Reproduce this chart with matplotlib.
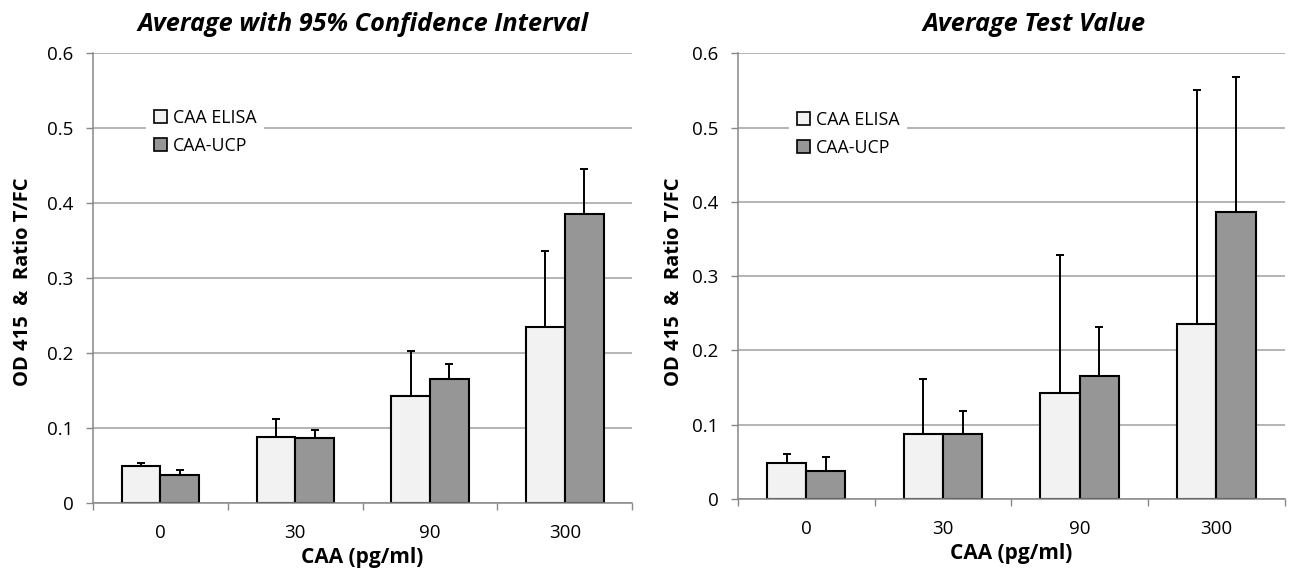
import numpy as np
import matplotlib
matplotlib.use('Agg')
import matplotlib.pyplot as plt
from matplotlib.patches import Patch

plt.rcParams['font.family'] = ['Open Sans', 'DejaVu Sans']

# Data
categories = ['0', '30', '90', '300']
elisa_mean = [0.049, 0.088, 0.143, 0.235]
ucp_mean = [0.038, 0.087, 0.165, 0.386]

# upper error (95% CI) - left panel
elisa_ci = [0.004, 0.024, 0.060, 0.101]
ucp_ci = [0.006, 0.011, 0.021, 0.059]

# upper error (test value spread) - right panel
elisa_sd = [0.011, 0.074, 0.185, 0.316]
ucp_sd = [0.019, 0.032, 0.066, 0.182]

titles = ['Average with 95% Confidence Interval', 'Average Test Value']

fig = plt.figure(figsize=(12.9, 5.72), dpi=100)
ax1 = fig.add_axes([0.0721, 0.1206, 0.418, 0.7867])
ax2 = fig.add_axes([0.572, 0.1276, 0.424, 0.779])

grid_col = '#a0a0a0'
axis_col = '#888888'


def draw_panel(ax, e_err, u_err, title, title_x, leg_xy, ylab_x):
    x = np.arange(len(categories))
    w = 0.287
    ax.set_axisbelow(True)
    ax.bar(x - w / 2, elisa_mean, w, color='#f2f2f2', edgecolor='black', linewidth=1.5, zorder=2)
    ax.bar(x + w / 2, ucp_mean, w, color='#969696', edgecolor='black', linewidth=1.5, zorder=2)
    ax.errorbar(x - w / 2, elisa_mean, yerr=[np.zeros(4), e_err], fmt='none',
                ecolor='black', elinewidth=1.4, capsize=3, capthick=1.4, zorder=1)
    ax.errorbar(x + w / 2, ucp_mean, yerr=[np.zeros(4), u_err], fmt='none',
                ecolor='black', elinewidth=1.4, capsize=3, capthick=1.4, zorder=1)

    ax.set_xlim(-0.5, 3.5)
    ax.set_ylim(0, 0.6)
    ax.set_yticks([0, 0.1, 0.2, 0.3, 0.4, 0.5, 0.6])
    ax.set_yticklabels(['0', '0.1', '0.2', '0.3', '0.4', '0.5', '0.6'])
    ax.yaxis.grid(True, color=grid_col, linewidth=1.1)
    ax.set_xticks(x)
    ax.set_xticklabels(categories)
    ax.set_xticks(np.arange(-0.5, 4.0, 1.0), minor=True)
    ax.tick_params(axis='x', which='major', length=0, pad=15, labelsize=13.5)
    ax.tick_params(axis='x', which='minor', length=5, color=axis_col, width=1)
    ax.tick_params(axis='y', length=5, color=axis_col, width=1, pad=9, labelsize=13.5)

    for s in ['top', 'right']:
        ax.spines[s].set_visible(False)
    for s in ['left', 'bottom']:
        ax.spines[s].set_color(axis_col)
        ax.spines[s].set_linewidth(1.1)

    ax.set_xlabel('CAA (pg/ml)', fontsize=15, fontweight='bold', labelpad=4)
    fig.text(ylab_x, 0.508, 'OD 415  &  Ratio T/FC', rotation=90, fontsize=14.5,
             fontweight='bold', ha='center', va='center')
    fig.text(title_x, 0.958, title, fontsize=18.2, fontweight='bold', style='italic',
             ha='center', va='center')

    handles = [Patch(facecolor='#f2f2f2', edgecolor='black', linewidth=1.2, label='CAA ELISA'),
               Patch(facecolor='#969696', edgecolor='black', linewidth=1.2, label='CAA-UCP')]
    leg = ax.legend(handles=handles, loc='upper left', bbox_to_anchor=leg_xy,
                    bbox_transform=fig.transFigure, frameon=True, fontsize=12.8,
                    handlelength=0.75, handleheight=0.75, handletextpad=0.3,
                    labelspacing=0.55, borderpad=0.45, fancybox=False)
    leg.get_frame().set_facecolor('white')
    leg.get_frame().set_edgecolor('none')
    leg.get_frame().set_alpha(1)
    leg.set_zorder(5)


draw_panel(ax1, elisa_ci, ucp_ci, titles[0], 363 / 1290, (137 / 1290, 1 - 92 / 572), 23 / 1290)
draw_panel(ax2, elisa_sd, ucp_sd, titles[1], 1034 / 1290, (780 / 1290, 1 - 94 / 572), 674 / 1290)

plt.savefig('out.png', dpi=100)
